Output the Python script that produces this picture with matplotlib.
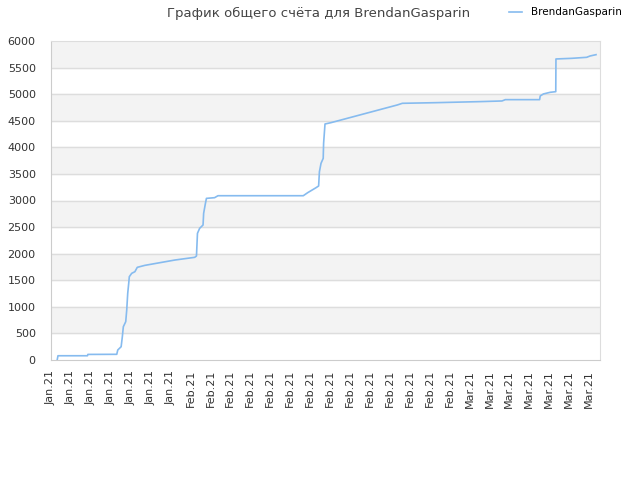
import matplotlib
matplotlib.use('Agg')
import matplotlib.pyplot as plt

# x positions are in units of the date-label spacing (label k sits at x = k)
labels = ['Jan.21'] * 7 + ['Feb.21'] * 14 + ['Mar.21'] * 7
xPos = [0.31, 0.35, 1.83, 1.85, 3.3, 3.35, 3.52, 3.58, 3.63, 3.75, 3.8, 3.85, 3.9,
        3.93, 4.05, 4.21, 4.33, 4.71, 6.21, 7.21, 7.3, 7.35, 7.46, 7.63, 7.66,
        7.75, 7.8, 8.21, 8.38, 12.66, 12.88, 13.3, 13.43, 13.47, 13.55, 13.66,
        13.68, 13.75, 14.05, 14.55, 17.38, 17.63, 19.3, 21.55, 22.63, 22.8,
        24.52, 24.55, 24.71, 25.05, 25.33, 25.34, 26.13, 26.88, 27.05, 27.35]
score = [0, 80, 80, 105, 107, 188, 250, 438, 626, 721, 940, 1254, 1442,
         1567, 1630, 1661, 1743, 1780, 1880, 1931, 1956, 2383, 2477, 2539, 2759,
         2947, 3040, 3053, 3090, 3090, 3147, 3241, 3273, 3542, 3699, 3793,
         4076, 4439, 4464, 4514, 4797, 4828, 4840, 4860, 4872, 4897,
         4897, 4966, 5004, 5035, 5047, 5662, 5674, 5693, 5718, 5743]
playerName = 'BrendanGasparin'

fig = plt.figure(figsize=(6.4, 4.8), dpi=100)
ax = fig.add_axes([51/640, 120/480, 549/640, 319/480])

#alternating bands
for lo in range(500, 6000, 1000):
    ax.axhspan(lo, lo + 500, color='#f3f3f3', zorder=0)
for yv in range(500, 6000, 500):
    ax.axhline(yv, color='#dddddd', lw=1, zorder=1)

ax.plot(xPos, score, color='#86bbef', lw=1.2, zorder=3, label=playerName)

ax.set_xlim(0.1, 27.55)
ax.set_ylim(0, 6000)
ax.set_yticks(range(0, 6001, 500))
ax.set_xticks(range(len(labels)))
ax.set_xticklabels(labels, rotation=90)
ax.tick_params(axis='both', length=0, labelsize=8, labelcolor='#333333')
ax.tick_params(axis='y', pad=11)
ax.tick_params(axis='x', pad=7)
for s in ax.spines.values():
    s.set_color('#dddddd')
ax.spines['left'].set_color('#cccccc')
ax.spines['bottom'].set_color('#cccccc')

fig.text(0.497, 0.972, 'График общего счёта для ' + playerName, ha='center', va='center',
         fontsize=9.5, color='#444444')
ax.legend(loc='upper left', bbox_to_anchor=(0.818, 1.135), frameon=False, fontsize=7.5,
          handlelength=1.2, handletextpad=0.9)

fig.savefig('out.png', dpi=100)
